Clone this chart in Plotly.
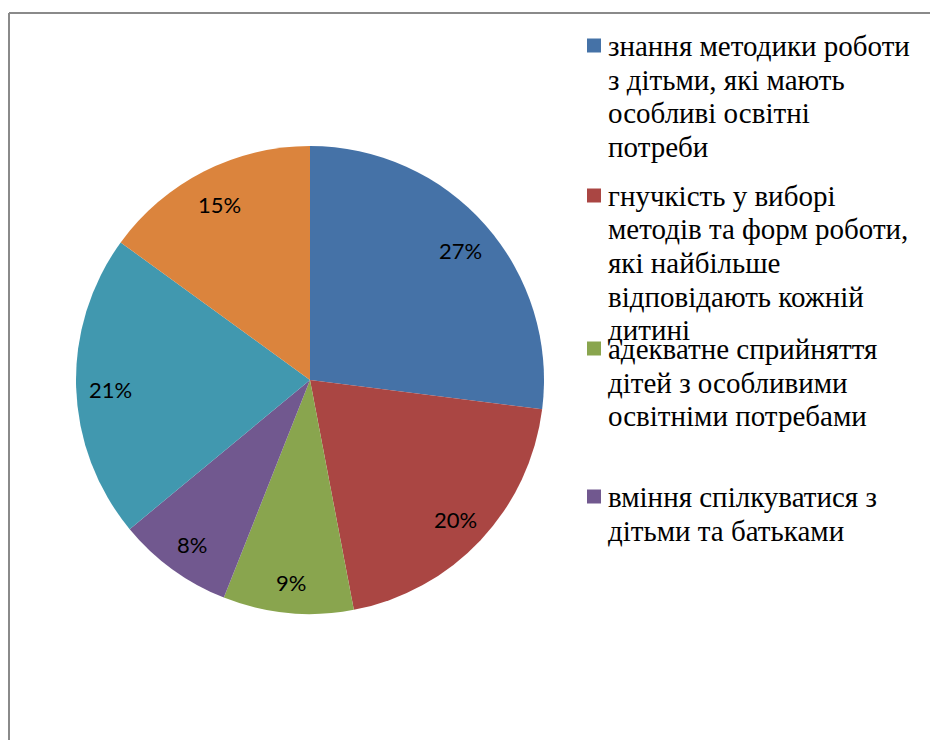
import math
import plotly.graph_objects as go

W, H = 938, 740
OFF = 8  # page body margin: screen position = paper position + 8px

labels = [
    "знання методики роботи з дітьми, які мають особливі освітні потреби",
    "гнучкість у виборі методів та форм роботи, які найбільше відповідають кожній дитині",
    "адекватне сприйняття дітей з особливими освітніми потребами",
    "вміння спілкуватися з дітьми та батьками",
    "показник 5",
    "показник 6",
]
legend_lines = [
    ["знання методики роботи", "з дітьми, які мають", "особливі освітні", "потреби"],
    ["гнучкість у виборі", "методів та форм роботи,", "які найбільше", "відповідають кожній", "дитині"],
    ["адекватне сприйняття", "дітей з особливими", "освітніми потребами"],
    ["вміння спілкуватися з", "дітьми та батьками"],
]
values = [27, 20, 9, 8, 21, 15]
colors = ["#4572A7", "#AA4643", "#89A54E", "#71588F", "#4198AF", "#DB843D"]


def px(x):
    return (x - OFF) / W


def py(y):
    return (H - (y - OFF)) / H


# pie placement (screen pixels)
cx, cy, R = 310, 380, 234

fig = go.Figure(go.Pie(
    labels=labels,
    values=values,
    sort=False,
    direction="clockwise",
    rotation=0,
    marker=dict(colors=colors, line=dict(width=0)),
    textinfo="none",
    domain=dict(x=[px(cx - R), px(cx + R)], y=[py(cy + R), py(cy - R)]),
    showlegend=False,
    hoverinfo="label+percent",
))

shapes = []
annotations = []
# frame border (left and top)
shapes.append(dict(type="line", xref="paper", yref="paper",
                   x0=px(9), x1=px(9), y0=0, y1=py(13),
                   line=dict(color="#8a8a8a", width=2)))
shapes.append(dict(type="line", xref="paper", yref="paper",
                   x0=px(9), x1=1, y0=py(13), y1=py(13),
                   line=dict(color="#8a8a8a", width=2)))

# data labels placed near the outer edge of each slice (derived from values)
total = sum(values)
cum = 0
r_lab = R - 34
for v in values:
    mid = (cum + v / 2) / total * 2 * math.pi
    cum += v
    lx = cx + r_lab * math.sin(mid)
    ly = cy - r_lab * math.cos(mid) + 3
    annotations.append(dict(
        xref="paper", yref="paper", x=px(lx), y=py(ly),
        xanchor="center", yanchor="middle", showarrow=False,
        text=f"{v}%", font=dict(family="Lato", size=22, color="black"),
    ))

# custom legend (first four entries visible, as in the cropped original)
first_baselines = [57, 207, 360, 508]
line_step = 33.5
for i, lines in enumerate(legend_lines):
    b0 = first_baselines[i]
    mc = b0 - 11.5
    shapes.append(dict(type="rect", xref="paper", yref="paper",
                       x0=px(587), x1=px(601),
                       y0=py(mc + 7), y1=py(mc - 7),
                       fillcolor=colors[i], line=dict(width=0)))
    for j, line in enumerate(lines):
        base = b0 + j * line_step
        annotations.append(dict(
            xref="paper", yref="paper", x=px(606), y=py(base + 7),
            xanchor="left", yanchor="bottom", align="left", showarrow=False,
            text=line,
            font=dict(family="Liberation Serif", size=29, color="black"),
        ))

fig.update_layout(
    width=W, height=H,
    margin=dict(l=0, r=0, t=0, b=0),
    paper_bgcolor="white",
    plot_bgcolor="white",
    shapes=shapes,
    annotations=annotations,
)

fig.write_html("out.html")
